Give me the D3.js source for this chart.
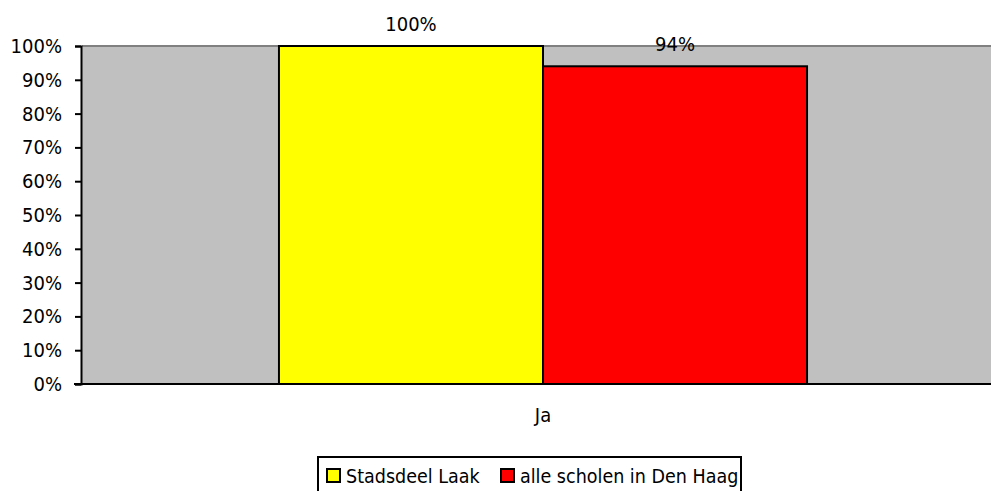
<!DOCTYPE html>
<html><head><meta charset="utf-8">
<script src="https://cdn.jsdelivr.net/npm/d3@7"></script>
<style>body{margin:0;background:#fff;overflow:hidden}svg{display:block}text{font-family:"DejaVu Sans Condensed","DejaVu Sans",sans-serif;fill:#000}</style>
</head><body><svg width="991" height="491"></svg>
<script>
const categories = ["Ja"];
const seriesNames = ["Stadsdeel Laak", "alle scholen in Den Haag"];
const seriesColors = ["#ffff00", "#ff0000"];
const seriesValues = [[1.00], [0.94]];
const valueLabels = [["100%"], ["94%"]];
const yTicks = [0,0.1,0.2,0.3,0.4,0.5,0.6,0.7,0.8,0.9,1.0];

const FONT = '"DejaVu Sans Condensed","DejaVu Sans",sans-serif';
const svg = d3.select("svg");
const L = 82, R = 1004, T = 46, B = 384;
const y = d3.scaleLinear().domain([0,1]).range([B,T]);
const x0 = d3.scaleBand().domain(categories).range([L,R]).paddingInner(0).paddingOuter(0.373);
const x1 = d3.scaleBand().domain(seriesNames).range([0,x0.bandwidth()]).padding(0);

// plot area
svg.append("rect").attr("x",L).attr("y",T).attr("width",R-L).attr("height",B-T).attr("fill","#c0c0c0");
svg.append("line").attr("x1",L).attr("x2",991).attr("y1",T).attr("y2",T).attr("stroke","#808080").attr("stroke-width",2);

// bars
categories.forEach((c,ci)=>{
  seriesNames.forEach((s,si)=>{
    const v = seriesValues[si][ci];
    const bx = x0(c)+x1(s);
    svg.append("rect").attr("x",bx).attr("y",y(v)).attr("width",x1.bandwidth()).attr("height",B-y(v))
      .attr("fill",seriesColors[si]).attr("stroke","#000").attr("stroke-width",2);
    svg.append("text").attr("x",bx+x1.bandwidth()/2).attr("y",y(v)-15).attr("text-anchor","middle")
      .attr("font-size","20px").text(valueLabels[si][ci]);
  });
});

// y axis
const yAxis = d3.axisLeft(y).tickValues(yTicks).tickFormat(d3.format(".0%")).tickSize(6).tickPadding(13);
const ya = svg.append("g").attr("transform",`translate(${L-1},0)`).call(yAxis);
ya.select(".domain").attr("stroke","#000").attr("stroke-width",2);
ya.selectAll(".tick line").attr("stroke","#000").attr("stroke-width",2);
ya.selectAll(".tick text").attr("font-size","20px").attr("font-family",FONT).attr("fill","#000");

// x axis
const xAxis = d3.axisBottom(x0).tickSize(0).tickPadding(24);
const xa = svg.append("g").attr("transform",`translate(0,${B})`).call(xAxis);
xa.select(".domain").attr("stroke","#000").attr("stroke-width",2).attr("d",`M${L-8},0H${R}`);
xa.selectAll(".tick text").attr("font-size","20px").attr("font-family",FONT).attr("fill","#000");

// legend
const lg = svg.append("g");
lg.append("rect").attr("x",318).attr("y",457).attr("width",423).attr("height",40).attr("fill","#fff").attr("stroke","#000").attr("stroke-width",2);
const items = [{x:327},{x:501}];
seriesNames.forEach((s,i)=>{
  lg.append("rect").attr("x",items[i].x).attr("y",469).attr("width",13).attr("height",13)
    .attr("fill",seriesColors[i]).attr("stroke","#000").attr("stroke-width",2);
  lg.append("text").attr("x",items[i].x+19).attr("y",483).attr("font-size","19.5px").text(s);
});
</script></body></html>
